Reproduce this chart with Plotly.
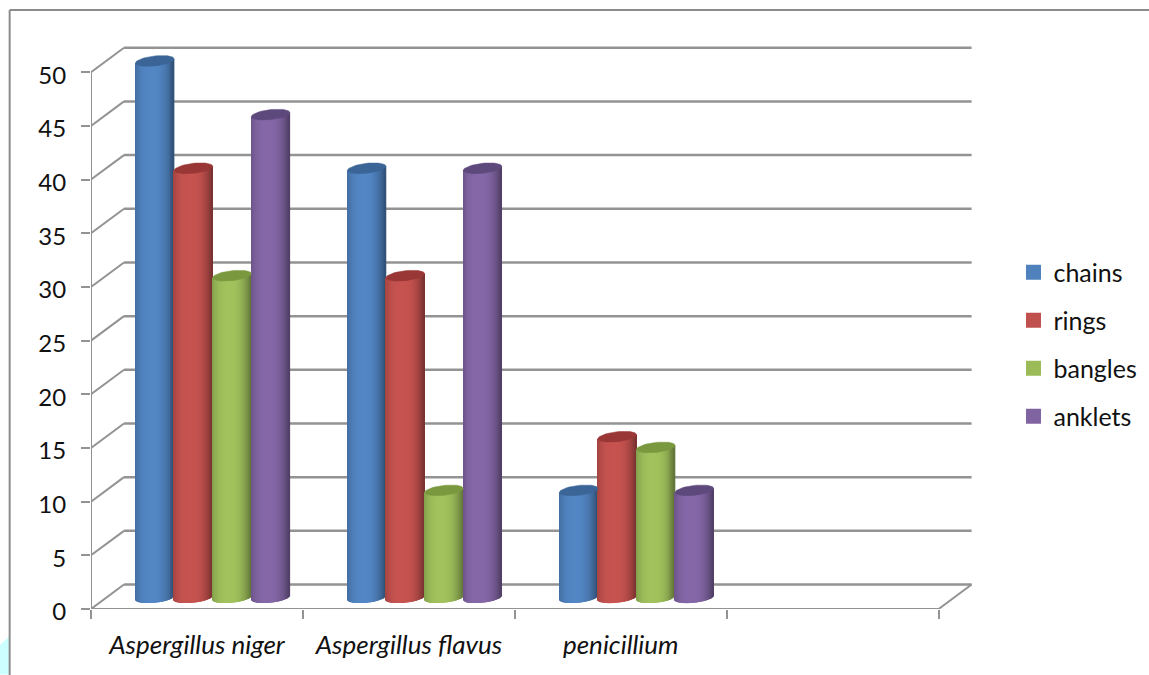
import numpy as np
import plotly.graph_objects as go

categories = ["Aspergillus niger", "Aspergillus flavus", "penicillium"]
chains = [50, 40, 10]
rings = [40, 30, 15]
bangles = [30, 10, 14]
anklets = [45, 40, 10]
value_ticks = [0, 5, 10, 15, 20, 25, 30, 35, 40, 45, 50]

series = [
    ("chains", chains, (79, 129, 189), (58, 101, 150)),
    ("rings", rings, (192, 80, 77), (152, 55, 53)),
    ("bangles", bangles, (155, 187, 89), (122, 153, 62)),
    ("anklets", anklets, (128, 100, 162), (94, 73, 124)),
]

# geometry of the faux-3D frame, in data units
SLOT_PX = 212.0
UNIT_PX = 10.75
DX = 33 / SLOT_PX
DY = 2.28
X0, X1 = -0.5, 3.5
CYL_W = 38.6 / SLOT_PX
GROUP_START = 44.6 / SLOT_PX
CAP_B = 0.465
CAP_TILT = 0.19
LIFT = 1.05
GRID = "#939393"
TEXT = "#111111"
FONT = "Lato"

def rgb(c):
    return f"rgb({int(c[0])},{int(c[1])},{int(c[2])})"

def shade(color, u):
    # u in [-1, 1] across the cylinder: bright centre slightly left, dark edges
    d = abs(u + 0.15) / 1.15
    k = 1.04 - 0.42 * d ** 2.6
    return rgb([min(255, v * k) for v in color])

fig = go.Figure()
N = 39
fracs = (np.arange(N) + 0.5) / N * 2 - 1

for s, (name, vals, col, capcol) in enumerate(series):
    xs, heights, bases, colors = [], [], [], []
    for i, v in enumerate(vals):
        cx = i - 0.5 + GROUP_START + CYL_W * (s + 0.5)
        for u in fracs:
            low = LIFT - CAP_B * np.sqrt(1 - u ** 2) + CAP_TILT * u
            top = v + LIFT + CAP_TILT * u
            xs.append(cx + u * CYL_W / 2)
            bases.append(low)
            heights.append(top - low)
            colors.append(shade(col, u))
    fig.add_trace(go.Bar(x=xs, y=heights, base=bases, width=1.4 / SLOT_PX,
                         marker=dict(color=colors, line=dict(width=0)),
                         showlegend=False, hoverinfo="skip"))

t = np.linspace(0, 2 * np.pi, 61)
for s, (name, vals, col, capcol) in enumerate(series):
    for i, v in enumerate(vals):
        cx = i - 0.5 + GROUP_START + CYL_W * (s + 0.5)
        fig.add_trace(go.Scatter(
            x=cx + CYL_W / 2 * np.cos(t),
            y=v + LIFT + CAP_B * np.sin(t) + CAP_TILT * np.cos(t),
            mode="lines", fill="toself", fillcolor=rgb(capcol),
            line=dict(width=0.5, color=rgb(capcol)),
            showlegend=False, hoverinfo="skip", cliponaxis=False))

# front frame: left axis, floor, wall returns
fx, fy = [X0, X0, None, X0, X1, X1 + DX, None], [0, 50, None, 0, 0, DY, None]
for v in value_ticks:
    fx += [X0, X0 + DX, None]
    fy += [v, v + DY, None]
fig.add_trace(go.Scatter(x=fx, y=fy, mode="lines", line=dict(color=GRID, width=2),
                         showlegend=False, hoverinfo="skip", cliponaxis=False))

# legend entries
for name, vals, col, capcol in series:
    fig.add_trace(go.Scatter(x=[None], y=[None], mode="markers", name=name,
                             legendgroup=name,
                             marker=dict(symbol="square", size=15, color=rgb(col))))

# back-wall gridlines, behind the bars
shapes = [dict(type="line", xref="x", yref="y", layer="below",
               x0=X0 + DX, x1=X1 + DX, y0=v + DY, y1=v + DY,
               line=dict(color=GRID, width=2.5)) for v in value_ticks]

fig.update_layout(
    width=1149, height=675, margin=dict(l=91, r=167.6, t=39.55, b=65.7, autoexpand=False),
    paper_bgcolor="white", plot_bgcolor="white", barmode="overlay",
    font=dict(family=FONT, size=25, color=TEXT),
    shapes=shapes,
    xaxis=dict(range=[X0, X1 + 0.2], showgrid=False, zeroline=False, showline=False,
               tickmode="array", tickvals=[0, 1, 2], ticktext=categories,
               ticks="", tickfont=dict(family=FONT, size=26, style="italic", color=TEXT),
               ticklabelstandoff=18,
               minor=dict(tickmode="array", tickvals=[-0.5, 0.5, 1.5, 2.5, 3.5], ticks="outside",
                          ticklen=9, tickwidth=2, tickcolor=GRID, showgrid=False)),
    yaxis=dict(range=[0, 53], showgrid=False, zeroline=False, showline=False,
               tickmode="array", tickvals=value_ticks, ticks="outside", ticklen=9, tickwidth=2,
               tickcolor=GRID, ticklabelstandoff=10, ticklabelshift=3,
               tickfont=dict(family=FONT, size=24, color=TEXT)),
    legend=dict(x=1.0365, y=0.465, xref="paper", yref="paper", xanchor="left", yanchor="middle",
                tracegroupgap=12.5, itemsizing="trace", font=dict(family=FONT, size=25, color=TEXT),
                bgcolor="rgba(0,0,0,0)"),
)

# outer border of the chart area, and the pale patch at the lower left
fig.add_shape(type="path", xref="paper", yref="paper", layer="below",
              path="M -0.1022,-0.1153 L -0.1022,-0.0627 L -0.0921,-0.0486 L -0.0921,-0.1153 Z",
              line=dict(width=0), fillcolor="#CCFFFF")
fig.add_shape(type="line", xref="paper", yref="paper", layer="above",
              x0=-0.0914, x1=-0.0914, y0=-0.1169, y1=1.0528, line=dict(color="#8c8c8c", width=2))
fig.add_shape(type="line", xref="paper", yref="paper", layer="above",
              x0=-0.0914, x1=1.19, y0=1.0528, y1=1.0528, line=dict(color="#8c8c8c", width=2))

fig.write_html("out.html", config={"displayModeBar": False},
               post_script="document.body.style.margin='0';document.body.style.overflow='hidden';")
